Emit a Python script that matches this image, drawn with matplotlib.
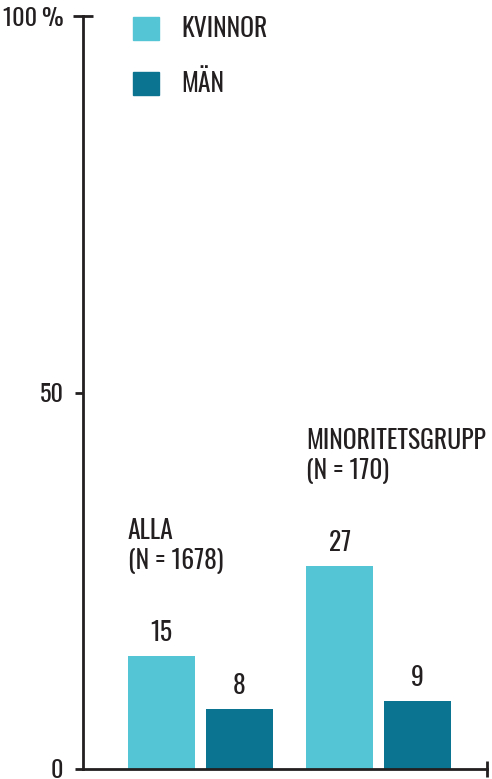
import matplotlib
matplotlib.use("Agg")
from matplotlib import pyplot as plt
from matplotlib.patches import Patch

plt.rcParams['font.family'] = ['Oswald', 'Pathway Gothic One', 'Liberation Sans', 'DejaVu Sans']
plt.rcParams['font.weight'] = 'light'

groups = ["ALLA\n(N = 1678)", "MINORITETSGRUPP\n(N = 170)"]
series = ["KVINNOR", "MÄN"]
kvinnor = [15, 27]
man = [8, 9]
yticks = [0, 50, 100]
yticklabels = ["0", "50", "100\u2009%"]

c_light = "#54c5d5"
c_dark = "#0b7490"
ink = "#231f20"

fig = plt.figure(figsize=(4.92, 7.79), dpi=100)
ax = fig.add_axes([83/492, 10/779, 404/492, 753/779])

centers = [2.9, 7.32]
off = 0.965
w = 1.66
fs = 18.5
for i, g in enumerate(groups):
    ax.bar(centers[i] - off, kvinnor[i], width=w, color=c_light)
    ax.bar(centers[i] + off, man[i], width=w, color=c_dark)
    ax.text(centers[i] - off, kvinnor[i] + 2.0, str(kvinnor[i]), ha='center',
            va='baseline', fontsize=fs, color=ink)
    ax.text(centers[i] + off, man[i] + 2.0, str(man[i]), ha='center',
            va='baseline', fontsize=fs, color=ink)
    # group label sits above the taller bar
    ax.text(centers[i] - off - w/2, kvinnor[i] + 18.3, g, ha='left', va='top',
            fontsize=fs, color=ink, linespacing=1.2)

ax.set_xlim(0, 10)
ax.set_ylim(0, 100)
for s in ['top', 'right']:
    ax.spines[s].set_visible(False)
for s in ['left', 'bottom']:
    ax.spines[s].set_linewidth(2)
    ax.spines[s].set_color(ink)

ax.set_yticks(yticks)
ax.set_yticklabels(yticklabels, fontsize=17.5, color=ink)
ax.tick_params(axis='y', length=6, width=2, color=ink, pad=8)
top = ax.yaxis.get_major_ticks()[-1]
top.tick1line.set_marker('_')
top.tick1line.set_markersize(14)

ax.set_xticks([10])
ax.set_xticklabels([""])
ax.tick_params(axis='x', direction='inout', length=12, width=2, color=ink)

handles = [Patch(color=c_light), Patch(color=c_dark)]
leg = ax.legend(handles, series, loc='upper left', bbox_to_anchor=(40/404, 1.013),
                frameon=False, fontsize=fs, handlelength=1.02, handleheight=1.02,
                labelspacing=1.08, handletextpad=0.85, borderaxespad=0)
for t in leg.get_texts():
    t.set_color(ink)

fig.savefig("out.png", dpi=100)
